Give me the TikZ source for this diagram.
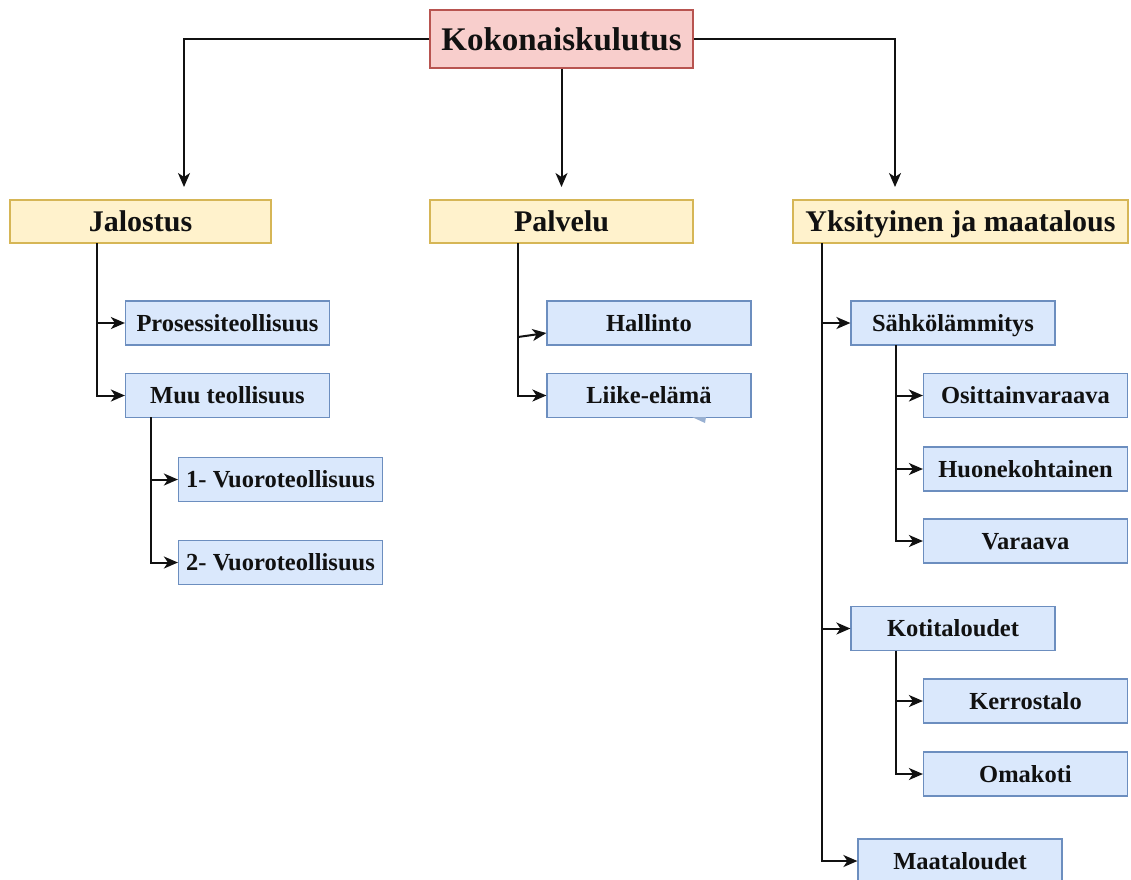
\documentclass[tikz,border=0pt]{standalone}
\usepackage{fontspec}
\setmainfont{Liberation Serif}
\usetikzlibrary{arrows.meta,calc}
\definecolor{pinkfill}{HTML}{F8CECC}
\definecolor{pinkdraw}{HTML}{B85450}
\definecolor{yelfill}{HTML}{FFF2CC}
\definecolor{yeldraw}{HTML}{D6B656}
\definecolor{bluefill}{HTML}{DAE8FC}
\definecolor{bluedraw}{HTML}{6C8EBF}
\definecolor{ink}{HTML}{111111}
\begin{document}
\begin{tikzpicture}[x=1pt,y=-1pt,
 box/.style={draw, line width=1.2pt, inner sep=0pt, anchor=center, text=ink, text depth=0pt},
 rootbox/.style={box, fill=pinkfill, draw=pinkdraw, minimum width=263pt, minimum height=58pt, text height=22pt, font=\bfseries\fontsize{33}{36}\selectfont},
 secbox/.style={box, fill=yelfill, draw=yeldraw, minimum height=43pt, text height=20pt, font=\bfseries\fontsize{30}{33}\selectfont},
 leafbox/.style={box, fill=bluefill, draw=bluedraw, minimum width=204pt, minimum height=44pt, text height=16pt, font=\bfseries\fontsize{24.5}{27}\selectfont},
 conn/.style={line width=2pt, draw=ink},
 arr/.style={conn, -{Stealth[length=14pt,width=12pt,inset=4pt]}}
]
\useasboundingbox (0,0) rectangle (1131,879);

% nodes
\node[rootbox] (koko) at (561.5,39) {Kokonaiskulutus};
\node[secbox, minimum width=261pt] (jal) at (140.5,221.5) {Jalostus};
\node[secbox, minimum width=263pt] (pal) at (561.5,221.5) {Palvelu};
\node[secbox, minimum width=335pt] (yks) at (960.5,221.5) {Yksityinen ja maatalous};

\node[leafbox] (pros) at (227.5,323) {Prosessiteollisuus};
\node[leafbox] (muu) at (227.5,395.5) {Muu teollisuus};
\node[leafbox] (v1) at (280.5,479.5) {1- Vuoroteollisuus};
\node[leafbox] (v2) at (280.5,562.5) {2- Vuoroteollisuus};

\node[leafbox] (hal) at (649,323) {Hallinto};
\node[leafbox] (lii) at (649,395.5) {Liike-elämä};

\node[leafbox] (sah) at (953,323) {Sähkölämmitys};
\node[leafbox] (osi) at (1025.5,395.5) {Osittainvaraava};
\node[leafbox] (huo) at (1025.5,469) {Huonekohtainen};
\node[leafbox] (var) at (1025.5,541) {Varaava};
\node[leafbox] (kot) at (953,628.5) {Kotitaloudet};
\node[leafbox] (ker) at (1025.5,701) {Kerrostalo};
\node[leafbox] (oma) at (1025.5,774) {Omakoti};
\node[leafbox] (maa) at (960,861) {Maataloudet};

% small artefact under Liike-elämä
\fill[bluedraw!70] (692,417) -- (706,417) -- (705,423) -- cycle;

% top level connectors
\coordinate (tl) at (184,187);
\coordinate (tr) at (895,187);
\draw[arr] (koko.west) -| (tl);
\draw[arr] (koko.east) -| (tr);
\draw[arr] (koko.south) -- (koko.south |- tl);

% Jalostus
\coordinate (jt) at (97,243);
\draw[arr] (jt) |- (muu.west);
\draw[arr] (jt |- pros.west) -- (pros.west);
\coordinate (mt) at (151,417);
\draw[arr] (mt) |- (v2.west);
\draw[arr] (mt |- v1.west) -- (v1.west);

% Palvelu
\coordinate (pt) at (518,243);
\coordinate (ph) at (518,337);
\draw[arr] (pt) |- (lii.west);
\draw[arr] (ph) -- ($(hal.west)+(0,10)$);

% Yksityinen ja maatalous
\coordinate (yt) at (822,243);
\draw[arr] (yt) |- (maa.west);
\draw[arr] (yt |- sah.west) -- (sah.west);
\draw[arr] (yt |- kot.west) -- (kot.west);
\coordinate (st) at (896,345);
\draw[arr] (st) |- (var.west);
\draw[arr] (st |- osi.west) -- (osi.west);
\draw[arr] (st |- huo.west) -- (huo.west);
\coordinate (kt) at (896,650.5);
\draw[arr] (kt) |- (oma.west);
\draw[arr] (kt |- ker.west) -- (ker.west);
\end{tikzpicture}
\end{document}
